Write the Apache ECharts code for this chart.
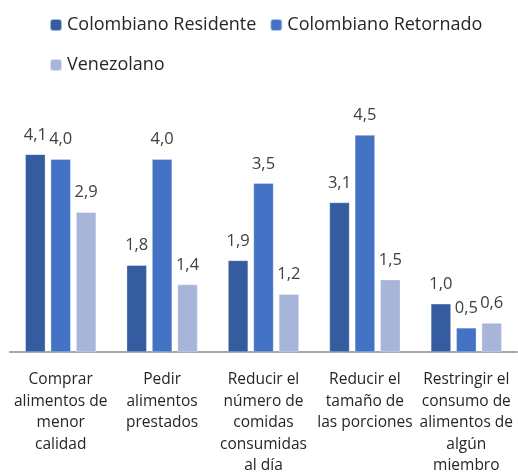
<!DOCTYPE html>
<html>
<head>
<meta charset="utf-8">
<script src="https://cdn.jsdelivr.net/npm/echarts@6/dist/echarts.min.js"></script>
<style>html,body{margin:0;padding:0;background:#fff}#c{width:518px;height:473px}</style>
</head>
<body>
<div id="c"></div>
<script>
const categories = [
  "Comprar\nalimentos de\nmenor\ncalidad",
  "Pedir\nalimentos\nprestados",
  "Reducir el\nnúmero de\ncomidas\nconsumidas\nal día",
  "Reducir el\ntamaño de\nlas porciones",
  "Restringir el\nconsumo de\nalimentos de\nalgún\nmiembro"
];
const seriesNames = ["Colombiano Residente", "Colombiano Retornado", "Venezolano"];
const residente = [4.1, 1.8, 1.9, 3.1, 1.0];
const retornado = [4.0, 4.0, 3.5, 4.5, 0.5];
const venezolano = [2.9, 1.4, 1.2, 1.5, 0.6];
const colors = ["#355C9F", "#4472C4", "#A8B5DA"];

const FONT = "Open Sans";
const chart = echarts.init(document.getElementById('c'), null, {renderer: 'canvas'});
const labelCfg = {
  show: true, position: 'top', distance: 11,
  color: '#404040', fontFamily: FONT, fontSize: 16.5,
  formatter: p => p.value.toFixed(1).replace('.', ',')
};
function mk(name, data, i) {
  return {
    name, type: 'bar', data, barWidth: 20, barGap: '27%',
    itemStyle: {color: colors[i], borderColor: 'rgba(255,255,255,0.6)', borderWidth: 0.5},
    label: labelCfg
  };
}
chart.setOption({
  animation: false,
  textStyle: {fontFamily: FONT},
  legend: [
    {data: [seriesNames[0], seriesNames[1]], left: 44, top: 11, itemWidth: 12, itemHeight: 12, itemGap: 13,
     textStyle: {fontFamily: FONT, fontSize: 18, color: '#262626'}},
    {data: [seriesNames[2]], left: 44, top: 51, itemWidth: 12, itemHeight: 12,
     textStyle: {fontFamily: FONT, fontSize: 18, color: '#262626'}}
  ],
  grid: {left: 10, right: 1, top: 111, bottom: 121, containLabel: false, outerBoundsMode: 'none'},
  xAxis: {
    type: 'category', data: categories,
    axisLine: {lineStyle: {color: '#A6A6A6', width: 2}},
    axisTick: {show: false},
    axisLabel: {interval: 0, color: '#262626', fontFamily: FONT, fontSize: 15.5, lineHeight: 21.5, margin: 17}
  },
  yAxis: {type: 'value', min: 0, max: 5, show: false, splitLine: {show: false}},
  series: [mk(seriesNames[0], residente, 0), mk(seriesNames[1], retornado, 1), mk(seriesNames[2], venezolano, 2)]
});
</script>
</body>
</html>
